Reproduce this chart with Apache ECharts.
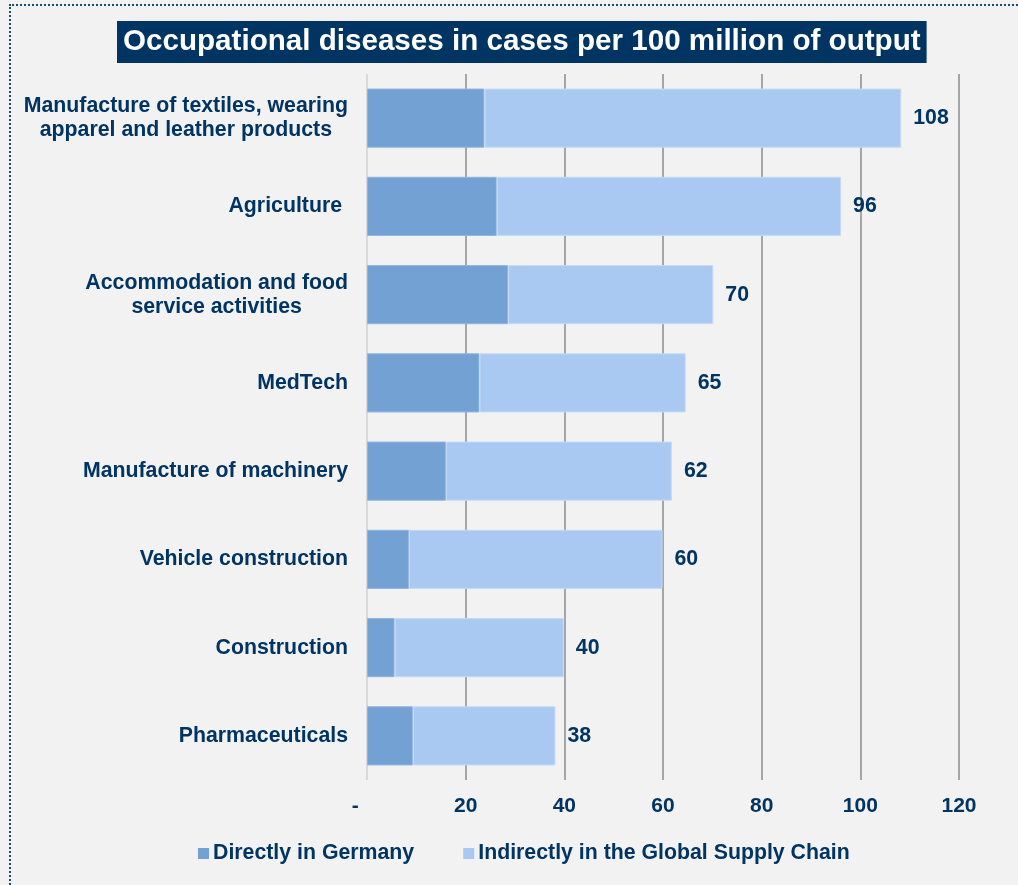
<!DOCTYPE html>
<html>
<head>
<meta charset="utf-8">
<script src="https://cdn.jsdelivr.net/npm/echarts@6/dist/echarts.min.js"></script>
<style>
  html, body { margin: 0; padding: 0; background: #ffffff; }
  #wrap { position: relative; width: 1018px; height: 885px; background: #ffffff; }
  #chart { position: absolute; left: 0; top: 0; width: 1018px; height: 885px; background: #f2f2f2; }
  #frame { position: absolute; left: 9px; top: 4px; width: 1009px; height: 881px;
           border-left: 2px dotted #1b4a7a; border-top: 2px dotted #1b4a7a;
           box-sizing: border-box; pointer-events: none; }
</style>
</head>
<body>
<div id="wrap">
  <div id="chart"></div>
  <div id="frame"></div>
</div>
<script>
const titleText = 'Occupational diseases in cases per 100 million of output';
const categories = [
  'Manufacture of textiles, wearing\napparel and leather products',
  'Agriculture ',
  'Accommodation and food\nservice activities',
  'MedTech',
  'Manufacture of machinery',
  'Vehicle construction',
  'Construction',
  'Pharmaceuticals'
];
const seriesNames = ['Directly in Germany', 'Indirectly in the Global Supply Chain'];
const directValues = [23.8, 26.3, 28.6, 22.8, 16.0, 8.5, 5.6, 9.3];
const indirectValues = [84.5, 69.8, 41.6, 41.8, 45.8, 51.4, 34.3, 28.9];
const totalLabels = ['108', '96', '70', '65', '62', '60', '40', '38'];
const xTicks = { min: 0, max: 120, interval: 20 };

const navy = '#003462';
const fontFamily = '"Liberation Sans", Arial, sans-serif';

const chart = echarts.init(document.getElementById('chart'), null, { renderer: 'canvas' });
chart.setOption({
  backgroundColor: '#f2f2f2',
  animation: false,
  title: {
    text: titleText,
    left: 117,
    top: 21,
    padding: [6, 6, 6, 6],
    backgroundColor: navy,
    textStyle: {
      color: '#ffffff',
      fontSize: 29.6,
      fontWeight: 'bold',
      fontFamily: fontFamily,
      lineHeight: 30
    }
  },
  legend: {
    left: 198,
    top: 843,
    padding: 0,
    itemWidth: 11,
    itemHeight: 11,
    itemGap: 49,
    icon: 'rect',
    itemStyle: { borderWidth: 0 },
    textStyle: {
      color: navy,
      fontSize: 21.3,
      fontWeight: 'bold',
      fontFamily: fontFamily,
      padding: [0, 0, 0, -1]
    },
    data: seriesNames
  },
  grid: {
    left: 367,
    right: 59,
    top: 74,
    bottom: 105,
    containLabel: false
  },
  xAxis: {
    type: 'value',
    min: xTicks.min,
    max: xTicks.max,
    interval: xTicks.interval,
    axisLine: { show: false },
    axisTick: { show: false },
    axisLabel: {
      margin: 16,
      color: navy,
      fontSize: 21,
      fontWeight: 'bold',
      fontFamily: fontFamily,
      formatter: function (v) { return v === 0 ? '-    ' : String(v); }
    },
    splitLine: {
      show: true,
      lineStyle: {
        color: ['#d9d9d9', '#a6a6a6', '#a6a6a6', '#a6a6a6', '#a6a6a6', '#a6a6a6', '#a6a6a6'],
        width: 2
      }
    }
  },
  yAxis: {
    type: 'category',
    inverse: true,
    data: categories,
    axisLine: { show: false },
    axisTick: { show: false },
    axisLabel: {
      margin: 19,
      align: 'right',
      formatter: function (v) {
        return v.split('\n').map(function (l) { return '{c|' + l + '}'; }).join('\n');
      },
      rich: {
        c: {
          align: 'center',
          color: navy,
          fontSize: 21.3,
          fontWeight: 'bold',
          fontFamily: fontFamily,
          lineHeight: 24
        }
      }
    }
  },
  series: [
    {
      name: seriesNames[0],
      type: 'bar',
      stack: 'total',
      data: directValues,
      barCategoryGap: '33%',
      itemStyle: { color: '#73a1d3', borderColor: '#8fb4e0', borderWidth: 1 }
    },
    {
      name: seriesNames[1],
      type: 'bar',
      stack: 'total',
      data: indirectValues,
      barCategoryGap: '33%',
      itemStyle: { color: '#aac9f2', borderColor: '#c4dbf6', borderWidth: 1 },
      label: {
        show: true,
        position: 'right',
        distance: 12,
        color: navy,
        fontSize: 21.3,
        fontWeight: 'bold',
        fontFamily: fontFamily,
        formatter: function (p) { return totalLabels[p.dataIndex]; }
      }
    }
  ]
});
</script>
</body>
</html>
